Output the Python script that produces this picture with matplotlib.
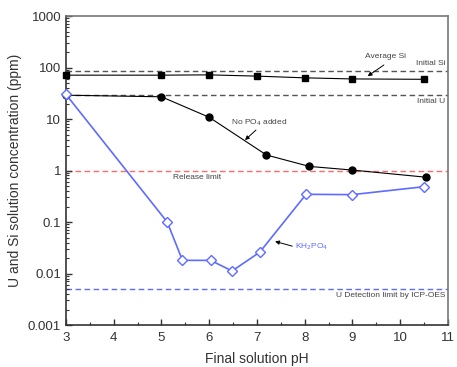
import matplotlib
matplotlib.use("Agg")
import matplotlib.pyplot as plt
from matplotlib.ticker import LogLocator, FixedLocator, NullFormatter

plt.rcParams['font.family'] = ['Liberation Sans', 'DejaVu Sans']

# Data
si_ph = [3.0, 5.0, 6.0, 7.0, 8.0, 9.0, 10.5]
si_conc = [71, 71, 72, 68, 63, 60, 59]

u_ph = [3.0, 5.0, 6.0, 7.2, 8.1, 9.0, 10.55]
u_conc = [29, 27, 10.8, 2.0, 1.2, 1.02, 0.74]

kh_ph = [3.0, 5.12, 5.44, 6.03, 6.48, 7.06, 8.03, 9.0, 10.5]
kh_conc = [30, 0.1, 0.018, 0.018, 0.0112, 0.026, 0.345, 0.34, 0.485]

initial_si = 84
initial_u = 29
release_limit = 1
detection_limit = 0.005

xticks = [3, 4, 5, 6, 7, 8, 9, 10, 11]
yticks = [0.001, 0.01, 0.1, 1, 10, 100, 1000]
ytick_labels = ['0.001', '0.01', '0.1', '1', '10', '100', '1000']

blue = '#5f6bff'

fig = plt.figure(figsize=(4.57, 3.67), dpi=100)
ax = fig.add_axes([0.1444, 0.1144, 0.8356, 0.842])

ax.set_yscale('log')
ax.set_xlim(3, 11)
ax.set_ylim(0.001, 1000)

ax.axhline(initial_si, color='#555555', ls=(0, (4, 2.5)), lw=1.0, zorder=1)
ax.axhline(initial_u, color='#555555', ls=(0, (4, 2.5)), lw=1.0, zorder=1)
ax.axhline(release_limit, color='#ff6a6a', ls=(0, (4, 2.5)), lw=1.0, zorder=1)
ax.axhline(detection_limit, color=blue, ls=(0, (4, 2.5)), lw=1.0, zorder=1)

ax.plot(si_ph, si_conc, color='black', lw=0.8, marker='s', ms=4.6, mfc='black', mec='black', zorder=3, clip_on=False)
ax.plot(u_ph, u_conc, color='black', lw=0.8, marker='o', ms=5, mfc='black', mec='black', zorder=3, clip_on=False)
ax.plot(kh_ph, kh_conc, color=blue, lw=1.2, marker='D', ms=4.8, mfc='white', mec=blue, mew=1.0, zorder=4, clip_on=False)

fs_ann = 6.0
tc = '#444444'
arrow = dict(arrowstyle='-|>', color='black', lw=0.7, mutation_scale=6, shrinkA=0, shrinkB=0)

ax.text(9.26, 160, 'Average Si', fontsize=fs_ann, color=tc, ha='left', va='center')
ax.annotate('', xy=(9.32, 68), xytext=(9.66, 112), arrowprops=arrow)
ax.text(10.95, 122, 'Initial Si', fontsize=fs_ann, color=tc, ha='right', va='center')
ax.text(10.95, 21.4, 'Initial U', fontsize=fs_ann, color=tc, ha='right', va='center')

ax.text(6.46, 8.3, 'No PO$_4$ added', fontsize=fs_ann, color=tc, ha='left', va='center')
ax.annotate('', xy=(6.75, 3.9), xytext=(6.98, 6.1), arrowprops=arrow)

ax.text(5.24, 0.73, 'Release limit', fontsize=fs_ann, color=tc, ha='left', va='center')

ax.text(7.8, 0.033, 'KH$_2$PO$_4$', fontsize=fs_ann, color=blue, ha='left', va='center')
ax.annotate('', xy=(7.38, 0.042), xytext=(7.74, 0.034), arrowprops=arrow)

ax.text(10.95, 0.0037, 'U Detection limit by ICP-OES', fontsize=fs_ann, color=tc, ha='right', va='center')

ax.xaxis.set_major_locator(FixedLocator(xticks))
ax.xaxis.set_minor_locator(FixedLocator([x + 0.5 for x in xticks[:-1]]))
ax.yaxis.set_major_locator(FixedLocator(yticks))
ax.set_yticklabels(ytick_labels)
ax.yaxis.set_minor_locator(LogLocator(base=10, subs=range(2, 10), numticks=20))
ax.yaxis.set_minor_formatter(NullFormatter())

ax.tick_params(which='both', direction='in', top=False, right=False, colors='#333333',
               labelsize=9.5, labelcolor='#333333')
ax.tick_params(which='major', length=4, width=1.0)
ax.tick_params(which='minor', length=2.2, width=0.8)
ax.tick_params(axis='x', pad=5)

for s in ['left', 'bottom']:
    ax.spines[s].set_color('#333333')
    ax.spines[s].set_linewidth(1.2)
for s in ['top', 'right']:
    ax.spines[s].set_color('#777777')
    ax.spines[s].set_linewidth(1.2)

ax.set_xlabel('Final solution pH', fontsize=10, color='#333333', labelpad=6)
ax.set_ylabel('U and Si solution concentration (ppm)', fontsize=10, color='#333333', labelpad=4)

fig.savefig('out.png', dpi=100)
